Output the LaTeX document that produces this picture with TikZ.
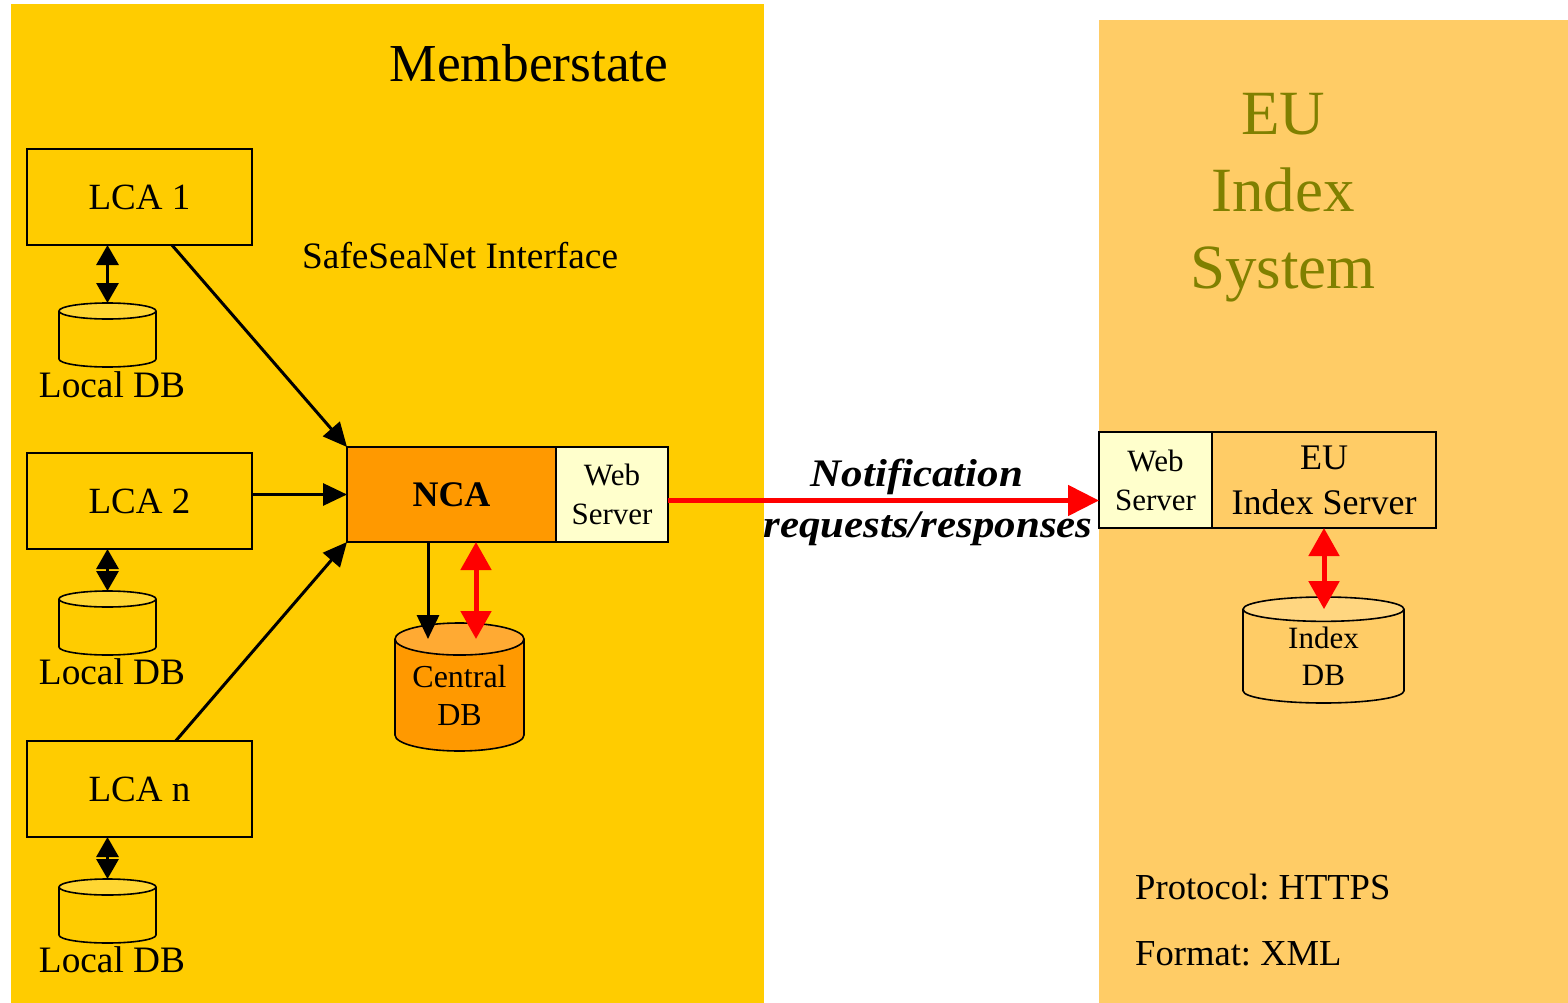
\documentclass[tikz,border=0pt]{standalone}
\usepackage{fontspec}
\usepackage{graphicx}
\setmainfont{Liberation Serif}
\usetikzlibrary{arrows.meta,shapes.geometric}
\definecolor{msyellow}{HTML}{FFCC00}
\definecolor{euorange}{HTML}{FFCC66}
\definecolor{ncaorange}{HTML}{FF9900}
\definecolor{webcream}{HTML}{FFFFCC}
\definecolor{eutitle}{HTML}{808000}
\definecolor{ldbtop}{HTML}{FFD633}
\definecolor{cdbtop}{HTML}{FFAA33}
\definecolor{idbtop}{HTML}{FFD680}
\newcommand{\fsz}[2]{\fontsize{#1}{#2}\selectfont}
\frenchspacing

\begin{document}
\begin{tikzpicture}[x=1pt,y=-1pt,
    lca/.style={draw,line width=1.6,fill=msyellow,minimum width=225,minimum height=96,inner sep=0,outer sep=0,font=\fsz{37}{42}},
    srv/.style={draw,line width=1.6,minimum height=95,inner sep=0,outer sep=0,align=center},
    dbcyl/.style={cylinder,shape border rotate=90,draw,line width=1.6,inner sep=0,outer sep=0,cylinder uses custom fill,align=center,anchor=top},
    ldb/.style={dbcyl,text width=97,minimum height=64,aspect=0.165,cylinder body fill=msyellow,cylinder end fill=ldbtop},
    dblabel/.style={anchor=base,inner sep=0,font=\fsz{37.3}{42}},
    plain/.style={inner sep=0,font=\fsz{36.6}{42}},
    blk/.style={-{Triangle[length=24,width=22]},line width=3},
    dblk/.style={{Triangle[length=20,width=22]}-{Triangle[length=20,width=22]},line width=3},
    redarr/.style={-{Triangle[length=31,width=30]},line width=5,red},
    dred/.style={{Triangle[length=28,width=30]}-{Triangle[length=28,width=30]},line width=5,red},
    arrlabel/.style={anchor=base,inner sep=0,font=\bfseries\itshape\fsz{39}{44}}]
    \useasboundingbox (0,0) rectangle (1568,1003);
    \fill[white] (0,0) rectangle (1568,1003);
    \fill[msyellow] (11,4) rectangle (764,1003);
    \fill[euorange] (1099,20) rectangle (1568,1003);

    \node[anchor=base,inner sep=0,font=\fsz{53.4}{60}] (mstitle) at (529,82) {Memberstate};
    \node[anchor=base west,inner sep=0,font=\fsz{37.3}{42}] (ssn) at (302,268) {SafeSeaNet Interface};
    \node[inner sep=0,align=center,text=eutitle,font=\fsz{63}{77}] (eutitle) at (1283,198) {EU\\Index\\System};

    \node[lca] (lca1) at (139.5,197) {LCA 1};
    \node[lca] (lca2) at (139.5,501) {LCA 2};
    \node[lca] (lcan) at (139.5,789) {LCA n};

    \node[ldb] (ldb1) at (107.5,303) {};
    \node[ldb] (ldb2) at (107.5,591) {};
    \node[ldb] (ldb3) at (107.5,879) {};
    \node[dblabel] (ldb1txt) at (112,397) {Local DB};
    \node[dblabel] (ldb2txt) at (112,684) {Local DB};
    \node[dblabel] (ldb3txt) at (112,972) {Local DB};

    \node[srv,fill=ncaorange,minimum width=209,font=\bfseries\fsz{36}{42}] (nca) at (451.5,494.5) {NCA};
    \node[srv,fill=webcream,minimum width=112,font=\fsz{31}{39}] (webms) at (612,494.5) {Web\\Server};
    \node[dbcyl,minimum width=129,minimum height=128,aspect=0.34,cylinder body fill=ncaorange,cylinder end fill=cdbtop,font=\fsz{32}{38}] (cdb) at (459.5,623) {Central\\DB};

    \node[srv,fill=webcream,minimum width=113,minimum height=96,font=\fsz{31}{39}] (webeu) at (1155.5,480) {Web\\Server};
    \node[srv,fill=euorange,minimum width=224,minimum height=96,font=\fsz{36}{45}] (euidx) at (1324,480) {EU\\Index Server};
    \node[dbcyl,minimum width=161,minimum height=106,aspect=0.345,cylinder body fill=euorange,cylinder end fill=idbtop,font=\fsz{31}{37}] (idb) at (1323.5,597) {Index\\DB};

    \node[anchor=base west,plain] (proto) at (1135,899) {Protocol: HTTPS};
    \node[anchor=base west,plain] (fmt) at (1135,965) {Format: XML};

    \draw[blk] (lca1.-56) -- (nca.north west);
    \draw[blk] (lca2.east |- nca.west) -- (nca.west);
    \draw[blk] (lcan.53) -- (nca.south west);
    \draw[dblk] (ldb1.top |- lca1.south) -- (ldb1.top);
    \draw[dblk] (ldb2.top |- lca2.south) -- (ldb2.top);
    \draw[dblk] (ldb3.top |- lcan.south) -- (ldb3.top);
    \draw[blk] (nca.south -| 428,0) -- (cdb.before top -| 428,0);
    \draw[dred] (nca.south -| 476,0) -- (cdb.before top -| 476,0);
    \draw[redarr] ([yshift=-6]webms.east) -- ([yshift=-6]webms.east -| webeu.west);
    \draw[dred] (euidx.south) -- (euidx.south |- idb.before top);

    \node[arrlabel] (notif) at (917,486) {\scalebox{1.1}[1]{Notification}};
    \node[arrlabel] (reqres) at (928,537) {\scalebox{1.1}[1]{requests/responses}};
\end{tikzpicture}
\end{document}
